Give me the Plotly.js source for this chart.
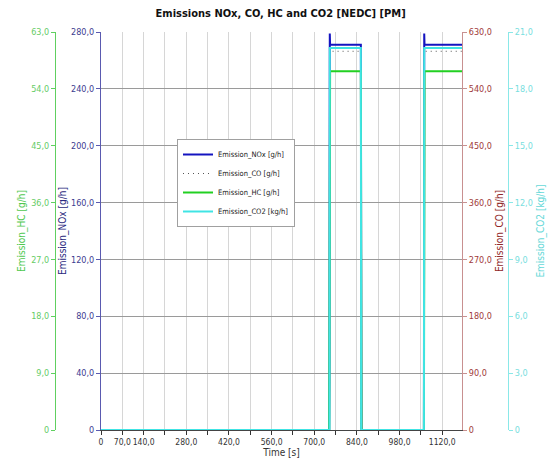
<!DOCTYPE html>
<html>
<head>
<meta charset="utf-8">
<script src="https://cdn.plot.ly/plotly-3.0.1.min.js"></script>
<style>html,body{margin:0;padding:0;background:#fff;}#chart{width:558px;height:463px;}</style>
</head>
<body>
<div id="chart"></div>
<script>
// Time samples [s]
var time = [0, 749, 750, 751, 752, 853, 854, 855, 1060, 1061, 1062, 1185];
// Series values
var emissionNOx = [0, 0, 49, 279, 271, 271, 135, 0, 0, 279, 271, 271];             // g/h
var emissionCO  = [0, 0, 0, 599.5, 599.5, 599.5, 0, 0, 0, 599.5, 599.5, 599.5];   // g/h
var emissionHC  = [0, 0, 15, 56.8, 56.8, 56.8, 0, 0, 0, 56.8, 56.8, 56.8];         // g/h
var emissionCO2 = [0, 0, 0, 20.16, 20.16, 20.16, 0, 0, 0, 20.16, 20.16, 20.16];   // kg/h

var seriesNames = ['Emission_NOx [g/h]', 'Emission_CO [g/h]', 'Emission_HC [g/h]', 'Emission_CO2 [kg/h]'];

// Tick labels
var xTickVals = [0,70,140,210,280,350,420,490,560,630,700,770,840,910,980,1050,1120];
var xTickText = ['0','70,0','140,0','','280,0','','420,0','','560,0','','700,0','','840,0','','980,0','','1120,0'];
var noxTicks = [0,40,80,120,160,200,240,280];
var noxText  = ['0','40,0','80,0','120,0','160,0','200,0','240,0','280,0'];
var hcTicks  = [0,9,18,27,36,45,54,63];
var hcText   = ['0','9,0','18,0','27,0','36,0','45,0','54,0','63,0'];
var coTicks  = [0,90,180,270,360,450,540,630];
var coText   = ['0','90,0','180,0','270,0','360,0','450,0','540,0','630,0'];
var co2Ticks = [0,3,6,9,12,15,18,21];
var co2Text  = ['0','3,0','6,0','9,0','12,0','15,0','18,0','21,0'];

var W = 558, H = 463;
var FONT = '"DejaVu Sans Condensed", "DejaVu Sans", "Liberation Sans", sans-serif';

var traces = [
  {x: time, y: emissionNOx, name: seriesNames[0], type: 'scatter', mode: 'lines', yaxis: 'y',
   line: {color: '#1414c0', width: 2}},
  {x: time, y: emissionCO, name: seriesNames[1], type: 'scatter', mode: 'lines', yaxis: 'y3',
   line: {color: '#555555', width: 1, dash: '1px,4px'}},
  {x: time, y: emissionHC, name: seriesNames[2], type: 'scatter', mode: 'lines', yaxis: 'y2',
   line: {color: '#22d022', width: 2}},
  {x: time, y: emissionCO2, name: seriesNames[3], type: 'scatter', mode: 'lines', yaxis: 'y4',
   line: {color: '#40e4e4', width: 2}}
];

function yax(o) {
  var a = {
    tickmode: 'array', tickvals: o.tickvals, ticktext: o.ticktext, range: o.range,
    ticks: 'outside', ticklen: 4, tickwidth: 1, tickcolor: o.linecolor,
    showgrid: !!o.showgrid, gridcolor: '#9a9a9a', gridwidth: 1,
    zeroline: false, showline: true, linewidth: 1, linecolor: o.linecolor,
    side: o.side, anchor: o.anchor,
    tickfont: {family: FONT, size: 9, color: o.tickcolor},
    title: {text: o.title, font: {family: FONT, size: 10, color: o.titlecolor}}
  };
  if (o.overlaying) a.overlaying = o.overlaying;
  if (o.position !== undefined) a.position = o.position;
  return a;
}

var layout = {
  width: W, height: H,
  margin: {l: 0, r: 0, t: 32, b: 33, pad: 0},
  paper_bgcolor: '#ffffff', plot_bgcolor: '#ffffff',
  showlegend: true,
  title: {
    text: '<b>Emissions NOx, CO, HC and CO2 [NEDC] [PM]</b>',
    font: {family: '"DejaVu Sans Condensed", "Liberation Sans Narrow", sans-serif', size: 11, color: '#111111'},
    x: 0.503, xanchor: 'center', xref: 'container',
    y: 1 - 13 / H, yanchor: 'middle', yref: 'container'
  },
  xaxis: {
    domain: [101 / W, 462 / W], range: [0, 1185],
    tickmode: 'array', tickvals: xTickVals, ticktext: xTickText, tickangle: 0,
    ticks: 'outside', ticklen: 4, tickcolor: '#333333',
    showgrid: true, gridcolor: '#d6d6d6', gridwidth: 1,
    showline: true, linecolor: '#444444', linewidth: 1, zeroline: false,
    tickfont: {family: FONT, size: 8.5, color: '#333333'},
    title: {text: 'Time [s]', font: {family: FONT, size: 10, color: '#333333'}, standoff: 2}
  },
  yaxis: yax({
    range: [0, 280], tickvals: noxTicks, ticktext: noxText, anchor: 'x', side: 'left', showgrid: true,
    linecolor: '#5a5ab0', tickcolor: '#3c3c90', title: 'Emission_NOx [g/h]', titlecolor: '#2a2a80'
  }),
  yaxis2: yax({
    range: [0, 63], tickvals: hcTicks, ticktext: hcText, overlaying: 'y', anchor: 'free',
    position: 55 / W, side: 'left',
    linecolor: '#60d060', tickcolor: '#66cc66', title: 'Emission_HC [g/h]', titlecolor: '#50c850'
  }),
  yaxis3: yax({
    range: [0, 630], tickvals: coTicks, ticktext: coText, overlaying: 'y', anchor: 'x', side: 'right',
    linecolor: '#c89090', tickcolor: '#a03a3a', title: 'Emission_CO [g/h]', titlecolor: '#902828'
  }),
  yaxis4: yax({
    range: [0, 21], tickvals: co2Ticks, ticktext: co2Text, overlaying: 'y', anchor: 'free',
    position: 508 / W, side: 'right',
    linecolor: '#8ae8e8', tickcolor: '#78dede', title: 'Emission_CO2 [kg/h]', titlecolor: '#66d8d8'
  }),
  legend: {
    x: 177 / W, y: (430 - 139) / 398, xref: 'paper', yref: 'paper',
    xanchor: 'left', yanchor: 'top',
    bgcolor: '#ffffff', bordercolor: '#a0a0a0', borderwidth: 1,
    font: {family: FONT, size: 7.5, color: '#222222'},
    itemwidth: 30, tracegroupgap: 0
  }
};

Plotly.newPlot('chart', traces, layout, {staticPlot: true, displayModeBar: false});
</script>
</body>
</html>
